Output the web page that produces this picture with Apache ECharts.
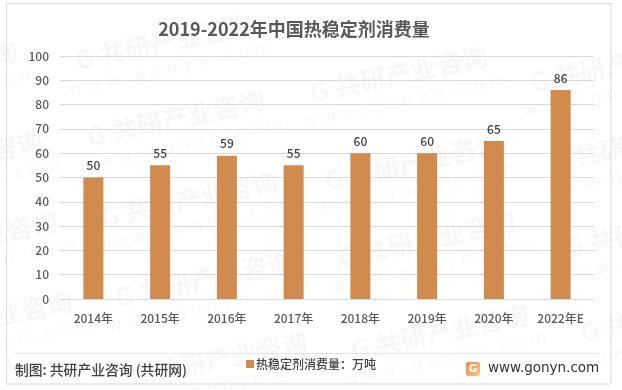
<!DOCTYPE html>
<html>
<head>
<meta charset="utf-8">
<script src="https://cdn.jsdelivr.net/npm/echarts@6/dist/echarts.min.js"></script>
<style>
  html, body { margin: 0; padding: 0; background: #fff; }
  #chart { width: 622px; height: 390px; }
</style>
</head>
<body>
<div id="chart"></div>
<script>
var categories = ['2014年', '2015年', '2016年', '2017年', '2018年', '2019年', '2020年', '2022年E'];
var values = [50, 55, 59, 55, 60, 60, 65, 86];
var seriesName = '热稳定剂消费量：万吨';
var cjk = '"Noto Sans CJK SC", sans-serif';

// 水印位置
var marks = [[-70, 75], [-45, 165], [-30, 245], [-15, 325],
  [165, 48], [177, 124], [190, 205], [205, 285], [220, 365],
  [400, 80], [414, 168], [428, 245], [441, 338],
  [620, 70], [640, 150], [655, 235], [670, 320]];

var graphics = [];
marks.forEach(function (m) {
  graphics.push({
    type: 'group', x: m[0], y: m[1], rotation: 12 * Math.PI / 180, z: 0, silent: true,
    children: [
      { type: 'text', x: 0, y: -6, style: { text: 'G 共研产业咨询', font: 'bold 26px ' + cjk, fill: 'rgba(0,0,0,0.032)', textAlign: 'center', textVerticalAlign: 'middle' } },
      { type: 'text', x: 0, y: 22, style: { text: 'w w w . g o n y n . c o m', font: '17px "DejaVu Sans"', fill: 'rgba(0,0,0,0.03)', textAlign: 'center', textVerticalAlign: 'middle' } }
    ]
  });
});
graphics.push(
  { type: 'rect', shape: { x: 6.5, y: 3.5, width: 604.5, height: 380.5 }, style: { fill: 'none', stroke: '#d9d9d9', lineWidth: 1 } },
  { type: 'line', shape: { x1: 15, y1: 353.5, x2: 598, y2: 353.5 }, style: { stroke: '#e6e6e6', lineWidth: 1 } },
  { type: 'text', x: 15, y: 370, style: { text: '制图: 共研产业咨询 (共研网)', font: '500 13.8px ' + cjk, fill: '#404040', textVerticalAlign: 'middle' } },
  { type: 'rect', shape: { x: 466, y: 362, width: 14, height: 14, r: 2 }, style: { fill: new echarts.graphic.LinearGradient(0, 0, 1, 1, [{ offset: 0, color: '#f0883e' }, { offset: 1, color: '#f7c98d' }]) } },
  { type: 'text', x: 473, y: 369, style: { text: 'G', font: 'bold 11px "DejaVu Sans"', fill: '#fff', textAlign: 'center', textVerticalAlign: 'middle' } },
  { type: 'text', x: 488, y: 368, style: { text: 'www.gonyn.com', font: '13.5px "DejaVu Sans"', fill: '#333', textVerticalAlign: 'middle' } }
);

var myChart = echarts.init(document.getElementById('chart'));
var option = {
  backgroundColor: '#ffffff',
  animation: false,
  title: {
    text: '2019-2022年中国热稳定剂消费量',
    left: 289,
    top: 15,
    textAlign: 'center',
    textStyle: { color: '#595959', fontSize: 18, fontWeight: 'bold', fontFamily: cjk }
  },
  legend: {
    left: 246,
    top: 358,
    itemWidth: 8,
    itemHeight: 8,
    itemGap: 0,
    padding: [0, 0, 0, 0],
    icon: 'rect',
    data: [seriesName],
    textStyle: { color: '#404040', fontSize: 12, fontWeight: 500, fontFamily: cjk, padding: [0, 0, 0, -3] }
  },
  grid: { left: 60, right: 28, top: 56, bottom: 91 },
  graphic: graphics,
  xAxis: {
    type: 'category',
    data: categories,
    axisTick: { show: false },
    axisLine: { lineStyle: { color: '#d9d9d9' } },
    axisLabel: { color: '#595959', fontSize: 12, fontWeight: 500, margin: 13, fontFamily: cjk, interval: 0 }
  },
  yAxis: {
    type: 'value',
    min: 0,
    max: 100,
    interval: 10,
    axisLine: { show: false },
    axisTick: { show: false },
    splitLine: { lineStyle: { color: '#d9d9d9' } },
    axisLabel: { color: '#595959', fontSize: 12, fontWeight: 500, margin: 11, fontFamily: cjk }
  },
  series: [{
    name: seriesName,
    type: 'bar',
    barWidth: 20,
    data: values,
    itemStyle: { color: '#d28b4e' },
    label: { show: true, position: 'top', distance: 6, color: '#404040', fontSize: 12, fontWeight: 500, fontFamily: cjk }
  }]
};
myChart.setOption(option);
</script>
</body>
</html>
